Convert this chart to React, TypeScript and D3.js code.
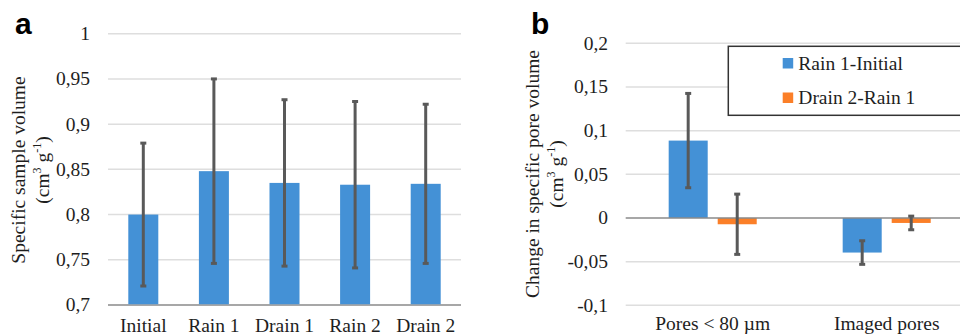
import { useRef, useEffect } from "react";
import * as d3 from "d3";

// panel a
const stages = ["Initial", "Rain 1", "Drain 1", "Rain 2", "Drain 2"];
const sampleVolume = [0.8, 0.848, 0.835, 0.833, 0.834];
const sampleVolumeErr = [0.079, 0.102, 0.092, 0.092, 0.088];
const ticksA = [0.7, 0.75, 0.8, 0.85, 0.9, 0.95, 1];

// panel b
const poreClasses = ["Pores < 80 µm", "Imaged pores"];
const seriesNames = ["Rain 1-Initial", "Drain 2-Rain 1"];
const rainMinusInitial = [0.0886, -0.0396];
const rainMinusInitialErr = [0.054, 0.0135];
const drainMinusRain = [-0.0072, -0.0057];
const drainMinusRainErr = [0.0345, 0.0078];
const ticksB = [-0.1, -0.05, 0, 0.05, 0.1, 0.15, 0.2];

const BLUE = "#4491d6";
const ORANGE = "#fb7f28";
const ERR = "#595959";
const GRID = "#dedede";
const AXIS = "#8a8a8a";
const FONT = "'Liberation Serif', serif";
const FS = 19.5;

const fmt = (v: number) => String(+v.toFixed(2)).replace(".", ",");

export default function App() {
  const svgRef = useRef<SVGSVGElement>(null);

  useEffect(() => {
    if (!svgRef.current) return;
    const svg = d3.select(svgRef.current);
    svg.selectAll("*").remove();

    const drawErr = (g: any, cx: number, y0: number, y1: number) => {
      g.append("line")
        .attr("x1", cx).attr("x2", cx).attr("y1", y0).attr("y2", y1)
        .attr("stroke", ERR).attr("stroke-width", 3);
      [y0, y1].forEach((yy) =>
        g.append("line")
          .attr("x1", cx - 3).attr("x2", cx + 3).attr("y1", yy).attr("y2", yy)
          .attr("stroke", ERR).attr("stroke-width", 3)
      );
    };

    const yTitle = (x: number, y: number, line1: string) => {
      const t = svg.append("text")
        .attr("transform", `translate(${x},${y}) rotate(-90)`)
        .attr("text-anchor", "middle")
        .attr("font-family", FONT)
        .attr("font-size", FS)
        .attr("fill", "#1e1e1e");
      t.append("tspan").attr("x", 0).attr("y", 0).text(line1);
      const l2 = t.append("tspan").attr("x", 0).attr("y", 24);
      l2.text("(cm");
      l2.append("tspan").attr("font-size", 12).attr("dy", -8).text("3");
      l2.append("tspan").attr("dy", 8).text(" g");
      l2.append("tspan").attr("font-size", 12).attr("dy", -8).text("-1");
      l2.append("tspan").attr("dy", 8).text(")");
    };

    // ---------- panel a ----------
    const xA = d3.scaleBand<string>().domain(stages).range([108, 461])
      .paddingInner(0.575).paddingOuter(0.2875);
    const yA = d3.scaleLinear().domain([0.7, 1]).range([305, 33.7]);
    const gA = svg.append("g");

    ticksA.forEach((t) => {
      gA.append("line")
        .attr("x1", 108).attr("x2", 461).attr("y1", yA(t)).attr("y2", yA(t))
        .attr("stroke", t === 0.7 ? AXIS : GRID).attr("stroke-width", 1.5);
      gA.append("text")
        .attr("x", 90).attr("y", yA(t)).attr("dy", "0.33em")
        .attr("text-anchor", "end")
        .attr("font-family", FONT).attr("font-size", FS).attr("fill", "#1e1e1e")
        .text(fmt(t));
    });

    stages.forEach((s, i) => {
      const x = xA(s)!;
      gA.append("rect")
        .attr("x", x).attr("width", xA.bandwidth())
        .attr("y", yA(sampleVolume[i]))
        .attr("height", yA(0.7) - yA(sampleVolume[i]) - 0.75)
        .attr("fill", BLUE);
      const cx = x + xA.bandwidth() / 2;
      drawErr(gA, cx, yA(sampleVolume[i] + sampleVolumeErr[i]), yA(sampleVolume[i] - sampleVolumeErr[i]));
      gA.append("text")
        .attr("x", cx).attr("y", 332).attr("text-anchor", "middle")
        .attr("font-family", FONT).attr("font-size", FS).attr("fill", "#1e1e1e")
        .text(s);
    });

    yTitle(25, 170, "Specific sample volume");

    svg.append("text")
      .attr("x", 15).attr("y", 33.5)
      .attr("font-family", "'Liberation Sans', sans-serif")
      .attr("font-weight", "bold").attr("font-size", 30)
      .text("a");

    // ---------- panel b ----------
    const x0 = d3.scaleBand<string>().domain(poreClasses).range([625.7, 973.7])
      .paddingInner(0.494).paddingOuter(0.247);
    const x1 = d3.scaleBand<string>().domain(seriesNames).range([0, x0.bandwidth()])
      .paddingInner(0.204);
    const yB = d3.scaleLinear().domain([-0.1, 0.2]).range([305.3, 43.3]);
    const gB = svg.append("g");

    ticksB.forEach((t) => {
      if (t !== 0)
        gB.append("line")
          .attr("x1", 625.7).attr("x2", 960).attr("y1", yB(t)).attr("y2", yB(t))
          .attr("stroke", GRID).attr("stroke-width", 1.5);
      gB.append("text")
        .attr("x", 608).attr("y", yB(t)).attr("dy", "0.33em")
        .attr("text-anchor", "end")
        .attr("font-family", FONT).attr("font-size", FS).attr("fill", "#1e1e1e")
        .text(fmt(t));
    });

    const series = [
      { name: seriesNames[0], vals: rainMinusInitial, errs: rainMinusInitialErr, color: BLUE },
      { name: seriesNames[1], vals: drainMinusRain, errs: drainMinusRainErr, color: ORANGE },
    ];

    poreClasses.forEach((c, i) => {
      series.forEach((s) => {
        const x = x0(c)! + x1(s.name)!;
        const v = s.vals[i];
        gB.append("rect")
          .attr("x", x).attr("width", x1.bandwidth())
          .attr("y", yB(Math.max(0, v)))
          .attr("height", Math.abs(yB(v) - yB(0)))
          .attr("fill", s.color);
      });
    });

    gB.append("line")
      .attr("x1", 625.7).attr("x2", 960).attr("y1", yB(0)).attr("y2", yB(0))
      .attr("stroke", AXIS).attr("stroke-width", 1.5);

    poreClasses.forEach((c, i) => {
      series.forEach((s) => {
        const cx = x0(c)! + x1(s.name)! + x1.bandwidth() / 2;
        drawErr(gB, cx, yB(s.vals[i] + s.errs[i]), yB(s.vals[i] - s.errs[i]));
      });
      gB.append("text")
        .attr("x", x0(c)! + x0.bandwidth() / 2).attr("y", 330).attr("text-anchor", "middle")
        .attr("font-family", FONT).attr("font-size", FS).attr("fill", "#1e1e1e")
        .text(c);
    });

    // legend
    const lg = svg.append("g");
    lg.append("rect")
      .attr("x", 728.3).attr("y", 46.3).attr("width", 240).attr("height", 69)
      .attr("fill", "#fff").attr("stroke", "#333").attr("stroke-width", 1.5);
    series.forEach((s, i) => {
      const yy = 63 + i * 34.5;
      lg.append("rect")
        .attr("x", 782.7).attr("y", yy - 5).attr("width", 10.5).attr("height", 10.5)
        .attr("fill", s.color);
      lg.append("text")
        .attr("x", 798.3).attr("y", yy + 6.5)
        .attr("font-family", FONT).attr("font-size", FS).attr("fill", "#1e1e1e")
        .text(s.name);
    });

    yTitle(539, 174, "Change in specific pore volume");

    svg.append("text")
      .attr("x", 531).attr("y", 33.5)
      .attr("font-family", "'Liberation Sans', sans-serif")
      .attr("font-weight", "bold").attr("font-size", 30)
      .text("b");
  }, []);

  return (
    <svg
      ref={svgRef}
      width={960}
      height={336}
      style={{ position: "absolute", left: 0, top: 0, background: "#fff" }}
    />
  );
}
